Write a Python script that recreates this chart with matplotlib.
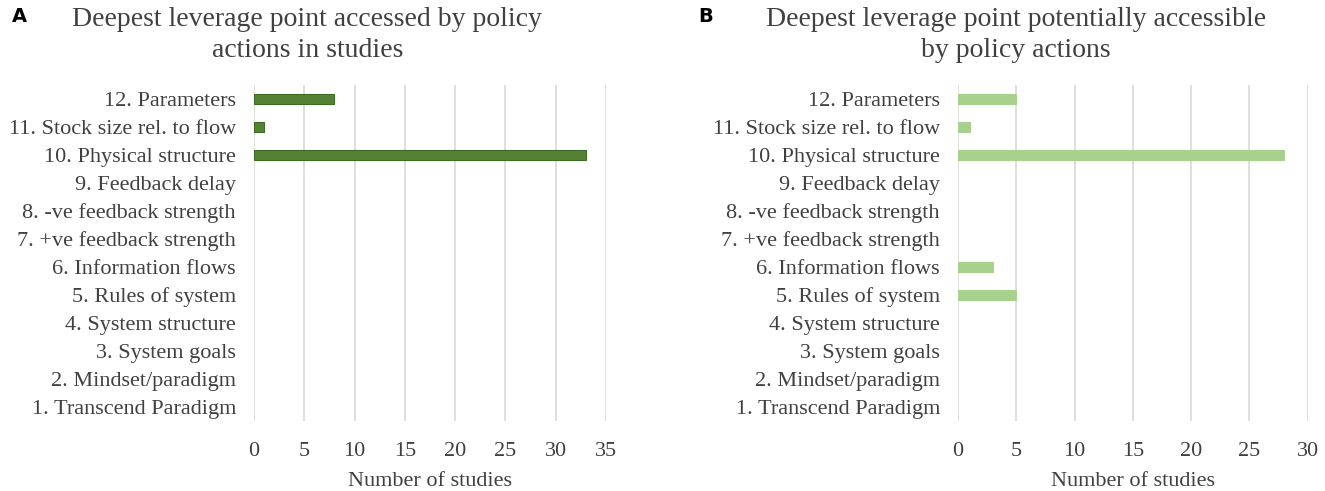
import matplotlib.pyplot as plt

# leverage point categories, top to bottom
categories = ['12. Parameters', '11. Stock size rel. to flow', '10. Physical structure',
              '9. Feedback delay', '8. -ve feedback strength', '7. +ve feedback strength',
              '6. Information flows', '5. Rules of system', '4. System structure',
              '3. System goals', '2. Mindset/paradigm', '1. Transcend Paradigm']
accessed = [8, 1, 33, 0, 0, 0, 0, 0, 0, 0, 0, 0]
potential = [5, 1, 28, 0, 0, 0, 3, 5, 0, 0, 0, 0]

plt.rcParams['font.family'] = ['Liberation Serif', 'DejaVu Serif']

fig = plt.figure(figsize=(13.25, 4.91), dpi=100)
axA = fig.add_axes([0.1917, 0.143, 0.2657, 0.684])
axB = fig.add_axes([0.723, 0.143, 0.264, 0.684])

panels = [
    (axA, accessed, '#548235', '#3d6b24', 35, 'Deepest leverage point accessed by policy\nactions in studies', 0.232, 'A', 0.009),
    (axB, potential, '#a9d18e', '#a9d18e', 30, 'Deepest leverage point potentially accessible\nby policy actions', 0.767, 'B', 0.527),
]

for ax, vals, col, edge, xmax, title, tx, letter, lx in panels:
    ypos = list(range(len(categories)))[::-1]
    lw = [0.8 if v > 0 else 0 for v in vals]
    ax.barh(ypos, vals, height=0.36, color=col, edgecolor=edge, linewidth=lw, zorder=3)
    ax.set_ylim(-0.5, len(categories) - 0.5)
    ax.set_xlim(0, xmax)
    ax.set_xticks(range(0, xmax + 1, 5))
    ax.set_yticks(ypos)
    ax.set_yticklabels(categories)
    ax.tick_params(length=0, labelsize=16, colors='#404040')
    ax.tick_params(axis='x', pad=15)
    ax.tick_params(axis='y', pad=13)
    ax.grid(axis='x', color='#d9d9d9', linewidth=1.2, zorder=0)
    for s in ax.spines.values():
        s.set_visible(False)
    ax.set_xlabel('Number of studies', fontsize=16, color='#404040', labelpad=8)
    fig.text(tx, 0.985, title, ha='center', va='top', fontsize=20, color='#404040', linespacing=1.3)
    fig.text(lx, 0.985, letter, ha='left', va='top', fontsize=14, fontweight='bold',
             family='DejaVu Sans', color='black')

fig.savefig('out.png', dpi=100)
